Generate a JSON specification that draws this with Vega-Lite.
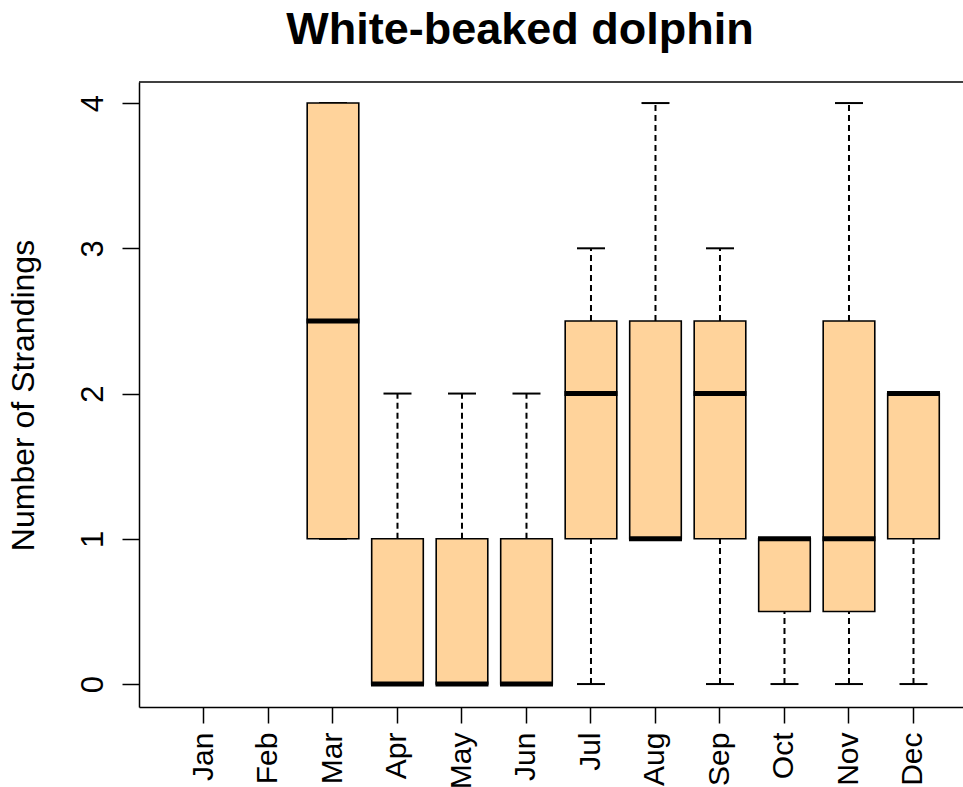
{
  "$schema": "https://vega.github.io/schema/vega-lite/v6.json",
  "autosize": {"type": "none"},
  "padding": {"left": 139, "top": 82, "right": 0, "bottom": 80},
  "width": 824,
  "height": 625,
  "background": "white",
  "title": {
    "text": "White-beaked dolphin",
    "font": "Liberation Sans",
    "fontSize": 45,
    "fontWeight": "bold",
    "color": "black",
    "anchor": "middle",
    "dx": -31,
    "baseline": "alphabetic",
    "offset": -8
  },
  "config": {
    "view": {"stroke": null},
    "axis": {"grid": false, "domainColor": "black", "domainWidth": 1.5, "tickColor": "black", "tickWidth": 1.5, "labelColor": "black", "titleColor": "black", "labelFont": "Liberation Sans", "titleFont": "Liberation Sans", "titleFontWeight": "normal"}
  },
  "data": {
    "values": [
      {"month": "Mar", "min": 1, "q1": 1, "median": 2.5, "q3": 4, "max": 4},
      {"month": "Apr", "min": 0, "q1": 0, "median": 0, "q3": 1, "max": 2},
      {"month": "May", "min": 0, "q1": 0, "median": 0, "q3": 1, "max": 2},
      {"month": "Jun", "min": 0, "q1": 0, "median": 0, "q3": 1, "max": 2},
      {"month": "Jul", "min": 0, "q1": 1, "median": 2, "q3": 2.5, "max": 3},
      {"month": "Aug", "min": 1, "q1": 1, "median": 1, "q3": 2.5, "max": 4},
      {"month": "Sep", "min": 0, "q1": 1, "median": 2, "q3": 2.5, "max": 3},
      {"month": "Oct", "min": 0, "q1": 0.5, "median": 1, "q3": 1, "max": 1},
      {"month": "Nov", "min": 0, "q1": 0.5, "median": 1, "q3": 2.5, "max": 4},
      {"month": "Dec", "min": 0, "q1": 1, "median": 2, "q3": 2, "max": 2}
    ]
  },
  "encoding": {
    "x": {
      "field": "month",
      "type": "nominal",
      "sort": null,
      "scale": {
        "type": "band",
        "domain": ["Jan", "Feb", "Mar", "Apr", "May", "Jun", "Jul", "Aug", "Sep", "Oct", "Nov", "Dec"],
        "paddingInner": 0.2,
        "paddingOuter": 0.4876,
        "align": 0.623
      },
      "axis": {
        "title": null,
        "labelAngle": -90,
        "labelAlign": "right",
        "labelBaseline": "middle",
        "labelFontSize": 30,
        "labelPadding": 9,
        "tickSize": 16,
        "domain": true
      }
    }
  },
  "layer": [
    {
      "mark": {"type": "rule", "color": "black", "strokeWidth": 2, "strokeDash": [6, 4]},
      "encoding": {
        "y": {
          "field": "min",
          "type": "quantitative",
          "scale": {"domain": [-0.158, 4.145], "nice": false, "zero": false},
          "axis": {
            "values": [0, 1, 2, 3, 4],
            "format": "d",
            "title": "Number of Strandings",
            "titleFontSize": 32,
            "titleAngle": -90,
            "titleBaseline": "alphabetic",
            "titleAlign": "center",
            "titleX": -106,
            "titleY": 313,
            "labelAngle": -90,
            "labelAlign": "center",
            "labelBaseline": "alphabetic",
            "labelFontSize": 31,
            "labelPadding": 20,
            "tickSize": 17,
            "domain": true
          }
        },
        "y2": {"field": "q1"}
      }
    },
    {
      "mark": {"type": "rule", "color": "black", "strokeWidth": 2, "strokeDash": [6, 4]},
      "encoding": {
        "y": {"field": "q3", "type": "quantitative"},
        "y2": {"field": "max"}
      }
    },
    {
      "mark": {"type": "tick", "color": "black", "opacity": 1, "thickness": 2, "size": 28},
      "encoding": {"y": {"field": "min", "type": "quantitative"}}
    },
    {
      "mark": {"type": "tick", "color": "black", "opacity": 1, "thickness": 2, "size": 28},
      "encoding": {"y": {"field": "max", "type": "quantitative"}}
    },
    {
      "mark": {"type": "bar", "fill": "#FFD39B", "stroke": "black", "strokeWidth": 1.6},
      "encoding": {
        "y": {"field": "q1", "type": "quantitative"},
        "y2": {"field": "q3"}
      }
    },
    {
      "mark": {"type": "tick", "color": "black", "opacity": 1, "thickness": 5, "size": 53},
      "encoding": {"y": {"field": "median", "type": "quantitative"}}
    },
    {
      "data": {"values": [{"top": 4.145}]},
      "mark": {"type": "rule", "color": "black", "strokeWidth": 1.5},
      "encoding": {"y": {"field": "top", "type": "quantitative"}, "x": null}
    }
  ]
}
